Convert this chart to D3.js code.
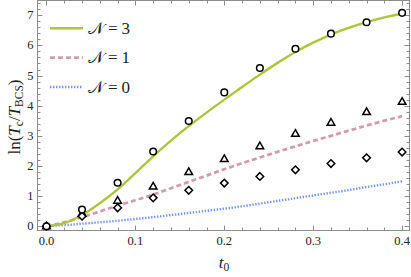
<!DOCTYPE html>
<html><head><meta charset="utf-8">
<script src="https://cdn.jsdelivr.net/npm/d3@7"></script>
<style>body{margin:0;background:#fff}svg{display:block}</style>
</head><body><svg id="c" width="411" height="277" font-family="'Liberation Serif','DejaVu Serif','Times New Roman',serif"></svg>
<script>
// ---- data ----
const lineT = [0,0.02,0.04,0.06,0.08,0.10,0.12,0.14,0.16,0.18,0.20,0.22,0.24,0.26,0.28,0.30,0.32,0.34,0.36,0.38,0.40];
const lineN3 = [0,0.1,0.37,0.76,1.22,1.76,2.32,2.84,3.32,3.77,4.2,4.62,5.03,5.42,5.78,6.09,6.36,6.58,6.77,6.93,7.06];
const lineN1 = [0,0.13,0.3,0.49,0.68,0.86,1.05,1.26,1.47,1.68,1.89,2.09,2.28,2.47,2.65,2.83,3.0,3.17,3.34,3.5,3.65];
const lineN0 = [0,0.035,0.08,0.13,0.18,0.24,0.3,0.37,0.44,0.51,0.58,0.66,0.75,0.84,0.93,1.02,1.11,1.2,1.3,1.39,1.49];
const ptT = [0,0.04,0.08,0.12,0.16,0.20,0.24,0.28,0.32,0.36,0.40];
const ptCircle = [0,0.55,1.44,2.48,3.49,4.44,5.25,5.89,6.39,6.77,7.08];
const ptTriangle = [0,0.42,0.85,1.32,1.8,2.23,2.66,3.07,3.44,3.79,4.13];
const ptDiamond = [0,0.33,0.61,0.94,1.19,1.43,1.65,1.87,2.08,2.27,2.46];
const xTicks = [0,0.1,0.2,0.3,0.4];
const yTicks = [0,1,2,3,4,5,6,7];
const legendSymbol = "\u{1D4A9}";
const legendValues = ["3","1","0"];

// ---- layout ----
const svg = d3.select("#c");
const L=37.5, R=409.5, T=0.5, B=230.5;
const x = d3.scaleLinear().domain([-0.0101,0.4083]).range([L,R]);
const y = d3.scaleLinear().domain([-0.143,7.49]).range([B,T]);
const frameCol="#8c8c8c";

svg.append("rect").attr("x",L).attr("y",T).attr("width",R-L).attr("height",B-T)
  .attr("fill","none").attr("stroke",frameCol).attr("stroke-width",1);

const xMinor = d3.range(0,0.4001,0.02).filter(v=>Math.abs(v*10-Math.round(v*10))>1e-6);
const yMinor = d3.range(0,7.41,0.2).filter(v=>Math.abs(v-Math.round(v))>1e-6);
const g = svg.append("g").attr("stroke",frameCol).attr("stroke-width",1);
xTicks.forEach(v=>{const px=Math.round(x(v))+0.5;
  g.append("line").attr("x1",px).attr("x2",px).attr("y1",B).attr("y2",B-5);
  g.append("line").attr("x1",px).attr("x2",px).attr("y1",T).attr("y2",T+5);});
xMinor.forEach(v=>{const px=Math.round(x(v))+0.5;
  g.append("line").attr("x1",px).attr("x2",px).attr("y1",B).attr("y2",B-3);
  g.append("line").attr("x1",px).attr("x2",px).attr("y1",T).attr("y2",T+3);});
yTicks.forEach(v=>{const py=Math.round(y(v))+0.5;
  g.append("line").attr("x1",L).attr("x2",L+5).attr("y1",py).attr("y2",py);
  g.append("line").attr("x1",R).attr("x2",R-5).attr("y1",py).attr("y2",py);});
yMinor.forEach(v=>{const py=Math.round(y(v))+0.5;
  g.append("line").attr("x1",L).attr("x2",L+3).attr("y1",py).attr("y2",py);
  g.append("line").attr("x1",R).attr("x2",R-3).attr("y1",py).attr("y2",py);});

svg.append("g").selectAll("text").data(xTicks).join("text")
  .attr("x",d=>x(d)).attr("y",245).attr("text-anchor","middle")
  .attr("font-size",12.5).attr("fill","#222").text(d=>d3.format(".1f")(d));
svg.append("g").selectAll("text").data(yTicks).join("text")
  .attr("x",33.5).attr("y",d=>y(d)+4).attr("text-anchor","end")
  .attr("font-size",12.5).attr("fill","#222").text(d=>d);

const mk = arr => d3.line().x((d,i)=>x(lineT[i])).y(d=>y(d)).curve(d3.curveMonotoneX)(arr);
svg.append("path").attr("d",mk(lineN0)).attr("fill","none").attr("stroke","#6f93ea").attr("stroke-width",2.4).attr("stroke-dasharray","1.4,1.6");
svg.append("path").attr("d",mk(lineN1)).attr("fill","none").attr("stroke","#d39cae").attr("stroke-width",2.8).attr("stroke-dasharray","5,3");
svg.append("path").attr("d",mk(lineN3)).attr("fill","none").attr("stroke","#adc43b").attr("stroke-width",2.4);

const mg = svg.append("g").attr("fill","white").attr("stroke","#000").attr("stroke-width",1.5);
mg.selectAll(".tri").data(ptTriangle).join("path")
  .attr("d",(d,i)=>{const cx=x(ptT[i]),cy=y(d);return `M${cx},${cy-4}L${cx+3.8},${cy+2.6}L${cx-3.8},${cy+2.6}Z`;});
mg.selectAll(".dia").data(ptDiamond).join("path")
  .attr("d",(d,i)=>{const cx=x(ptT[i]),cy=y(d);return `M${cx},${cy-3.8}L${cx+3.8},${cy}L${cx},${cy+3.8}L${cx-3.8},${cy}Z`;});
mg.selectAll("circle").data(ptCircle).join("circle")
  .attr("cx",(d,i)=>x(ptT[i])).attr("cy",d=>y(d)).attr("r",3.3);

const legStyles=[{c:"#adc43b",w:2.4,da:null},{c:"#d39cae",w:2.8,da:"5,3"},{c:"#6f93ea",w:2.4,da:"1.4,1.6"}];
const legY=[28.3,57.7,87];
legendValues.forEach((v,i)=>{
  svg.append("line").attr("x1",50).attr("x2",83).attr("y1",legY[i]).attr("y2",legY[i])
    .attr("stroke",legStyles[i].c).attr("stroke-width",legStyles[i].w).attr("stroke-dasharray",legStyles[i].da);
  const t = svg.append("text").attr("x",88).attr("y",legY[i]+5.5).attr("font-size",17).attr("fill","#222");
  t.append("tspan").text(legendSymbol);
  t.append("tspan").attr("dx",4).text("=");
  t.append("tspan").attr("dx",4).text(v);
});

const xl = svg.append("text").attr("x",224).attr("y",268).attr("text-anchor","middle").attr("font-size",17).attr("fill","#222");
xl.append("tspan").attr("font-style","italic").text("t");
xl.append("tspan").attr("font-size",11.5).attr("dy",3).text("0");

const yl = svg.append("text").attr("transform","translate(20,117) rotate(-90)").attr("text-anchor","middle").attr("font-size",17).attr("fill","#222");
yl.append("tspan").text("ln(");
yl.append("tspan").attr("font-style","italic").text("T");
yl.append("tspan").attr("font-size",11.5).attr("dy",3).text("c");
yl.append("tspan").attr("dy",-3).text("/");
yl.append("tspan").attr("font-style","italic").text("T");
yl.append("tspan").attr("font-size",11.5).attr("dy",3).text("BCS");
yl.append("tspan").attr("dy",-3).text(")");
</script></body></html>
